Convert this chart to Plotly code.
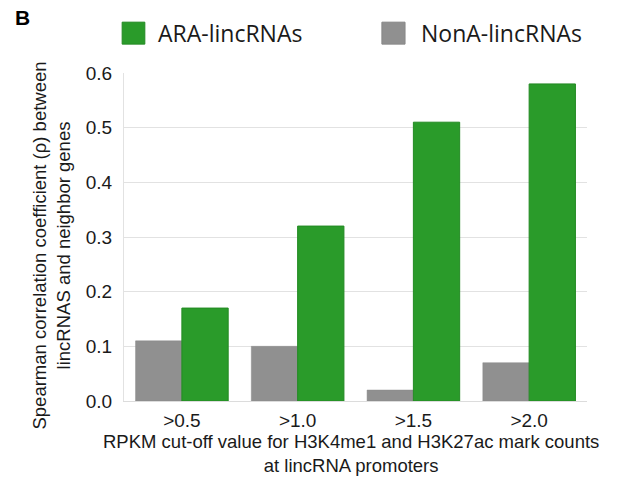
import plotly.graph_objects as go

categories = [">0.5", ">1.0", ">1.5", ">2.0"]
nona_values = [0.11, 0.10, 0.02, 0.07]
ara_values = [0.17, 0.32, 0.51, 0.58]
y_ticks = [0.0, 0.1, 0.2, 0.3, 0.4, 0.5, 0.6]
y_tick_text = ["0.0", "0.1", "0.2", "0.3", "0.4", "0.5", "0.6"]

GREEN = "#2a9b2a"
GRAY = "#909090"
AX_FONT = "Liberation Sans, Arial, sans-serif"
LEG_FONT = "Open Sans, DejaVu Sans, sans-serif"

fig = go.Figure()
fig.add_trace(go.Bar(x=categories, y=nona_values, name="NonA-lincRNAs",
                     marker=dict(color=GRAY, line=dict(color="#888888", width=0.5)),
                     showlegend=False))
fig.add_trace(go.Bar(x=categories, y=ara_values, name="ARA-lincRNAs",
                     marker=dict(color=GREEN, line=dict(color="#238a23", width=1)),
                     showlegend=False))

fig.update_layout(
    width=625, height=478,
    margin=dict(l=124, r=38, t=73, b=77),
    paper_bgcolor="white", plot_bgcolor="white",
    barmode="group", bargap=0.2, bargroupgap=0,
    font=dict(family=AX_FONT, color="#1a1a1a"),
)
fig.update_xaxes(showgrid=False, showline=True, linecolor="#dcdcdc", linewidth=1,
                 ticks="", ticklabelstandoff=2,
                 tickfont=dict(size=19, family=AX_FONT, color="#1a1a1a"))
fig.update_yaxes(range=[0, 0.6], tickvals=y_ticks, ticktext=y_tick_text,
                 showgrid=True, gridcolor="#e2e2e2", gridwidth=1,
                 showline=True, linecolor="#e2e2e2", zeroline=False,
                 ticks="", ticklabelstandoff=7,
                 tickfont=dict(size=19, family=AX_FONT, color="#1a1a1a"))

# custom legend (big squares)
fig.add_shape(type="rect", xref="paper", yref="paper", x0=-0.004, x1=0.045, y0=1.088, y1=1.155,
              fillcolor=GREEN, line=dict(color="#238a23", width=1))
fig.add_shape(type="rect", xref="paper", yref="paper", x0=0.557, x1=0.607, y0=1.088, y1=1.155,
              fillcolor=GRAY, line=dict(color="#888888", width=1))
fig.add_annotation(text="ARA-lincRNAs", xref="paper", yref="paper", x=0.069, y=1.122,
                   xanchor="left", yanchor="middle", showarrow=False,
                   font=dict(size=23, family=LEG_FONT, color="#1a1a1a"))
fig.add_annotation(text="NonA-lincRNAs", xref="paper", yref="paper", x=0.637, y=1.122,
                   xanchor="left", yanchor="middle", showarrow=False,
                   font=dict(size=23, family=LEG_FONT, color="#1a1a1a"))

# panel label
fig.add_annotation(text="<b>B</b>", xref="paper", yref="paper", x=-0.24, y=1.17,
                   xanchor="left", yanchor="middle", showarrow=False,
                   font=dict(size=21, family=AX_FONT, color="#000000"))

# axis titles
fig.add_annotation(text="Spearman correlation coefficient (ρ) between<br>lincRNAS and neighbor genes",
                   xref="paper", yref="paper", x=-0.157, y=0.475, textangle=-90,
                   xanchor="center", yanchor="middle", showarrow=False,
                   font=dict(size=18.5, family=AX_FONT, color="#1a1a1a"))
fig.add_annotation(text="RPKM cut-off value for H3K4me1 and H3K27ac mark counts<br>at lincRNA promoters",
                   xref="paper", yref="paper", x=0.49, y=-0.159,
                   xanchor="center", yanchor="middle", showarrow=False,
                   font=dict(size=18.5, family=AX_FONT, color="#1a1a1a"))

fig.write_html("out.html")
